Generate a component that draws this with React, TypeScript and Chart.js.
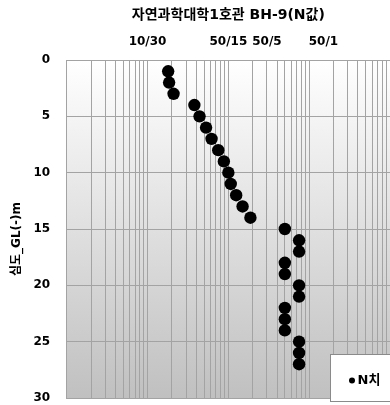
import React, { useEffect, useRef } from "react";
import { Chart, registerables } from "chart.js";

Chart.register(...registerables);

// ---- data ----
const depths = [1, 2, 3, 4, 5, 6, 7, 8, 9, 10, 11, 12, 13, 14, 15, 16, 17, 18, 19, 20, 21, 22, 23, 24, 25, 26, 27];
const nValues = [18, 18.5, 21, 38, 44, 53, 62, 75, 88, 100, 107, 125, 150, 187.5, 500, 750, 750, 500, 500, 750, 750, 500, 500, 500, 750, 750, 750];
const topTickValues = [10, 100, 300, 1500];
const topTickLabels = ["10/30", "50/15", "50/5", "50/1"];
const depthTickStep = 5;
const depthMin = 0;
const depthMax = 30;
const nMin = 1;
const nMax = 10000;
const chartTitle = "자연과학대학1호관 BH-9(N값)";
const yAxisTitle = "심도_GL(-)m";
const seriesLabel = "N치";

const FAMILY = "'DejaVu Sans', 'Noto Sans CJK KR', sans-serif";
const GRID = "#a3a3a3";

const TITLE_SIZE = 14;
const TITLE_PAD_TOP = 7;
const CHART_TOP = 60;
const CHART_LEFT = 66.7;

const bgPlugin = {
  id: "plotBg",
  beforeDraw(chart: any) {
    const { ctx, chartArea } = chart;
    if (!chartArea) return;
    const g = ctx.createLinearGradient(0, chartArea.top, 0, chartArea.bottom);
    g.addColorStop(0, "#ffffff");
    g.addColorStop(1, "#c0c0c0");
    ctx.save();
    ctx.fillStyle = g;
    ctx.fillRect(chartArea.left, chartArea.top, chartArea.right - chartArea.left, chartArea.bottom - chartArea.top);
    ctx.restore();
  },
};

// y-axis title, drawn slightly below the plot's vertical centre as in the reference
const yTitlePlugin = {
  id: "yTitle",
  afterDraw(chart: any) {
    const { ctx, chartArea } = chart;
    const cx = 16.7;
    const cy = (chartArea.top + chartArea.bottom) / 2 + 10;
    ctx.save();
    ctx.translate(cx, cy);
    ctx.rotate(-Math.PI / 2);
    ctx.font = `bold 12px ${FAMILY}`;
    ctx.fillStyle = "#000";
    ctx.textAlign = "center";
    ctx.textBaseline = "middle";
    ctx.fillText(yAxisTitle, 0, 0);
    ctx.restore();
  },
};

const legendBoxPlugin = {
  id: "legendBox",
  afterDraw(chart: any) {
    const { ctx, chartArea } = chart;
    const ds = chart.data.datasets[0];
    const x = chartArea.right - 59.5;
    const y = chartArea.bottom - 43.5;
    const w = 70;
    const h = 47;
    ctx.save();
    ctx.fillStyle = "#ffffff";
    ctx.strokeStyle = "#8a8a8a";
    ctx.lineWidth = 1;
    ctx.fillRect(x, y, w, h);
    ctx.strokeRect(x, y, w, h);
    const cy = y + 26;
    ctx.fillStyle = "#000";
    ctx.beginPath();
    ctx.arc(x + 21.5, cy, 3, 0, Math.PI * 2);
    ctx.fill();
    ctx.font = `bold 13px ${FAMILY}`;
    ctx.textBaseline = "middle";
    ctx.textAlign = "left";
    ctx.fillText(ds.label, x + 27, cy);
    ctx.restore();
  },
};

function buildGridValues(): number[] {
  const vals: number[] = [];
  for (let p = nMin; p < nMax; p *= 10) {
    for (let m = 1; m <= 9; m++) vals.push(m * p);
  }
  vals.push(nMax);
  topTickValues.forEach((v) => {
    if (!vals.includes(v)) vals.push(v);
  });
  return vals.sort((a, b) => a - b);
}

export default function App() {
  const ref = useRef<HTMLCanvasElement | null>(null);

  useEffect(() => {
    if (!ref.current) return;
    const gridValues = buildGridValues();
    const isLabelOnly = (v: number) => {
      let p = 1;
      while (p * 10 <= v) p *= 10;
      return !Number.isInteger(v / p);
    };
    const chart = new Chart(ref.current, {
      type: "scatter",
      data: {
        datasets: [
          {
            label: seriesLabel,
            data: depths.map((d, i) => ({ x: nValues[i], y: d })),
            backgroundColor: "#000000",
            borderColor: "#000000",
            pointRadius: 6.2,
            pointHoverRadius: 6.2,
            pointBorderWidth: 0,
          },
        ],
      },
      options: {
        animation: false,
        responsive: false,
        maintainAspectRatio: false,
        layout: { autoPadding: false, padding: { left: 0, right: 0, top: 0, bottom: 7 } },
        plugins: {
          legend: { display: false },
          tooltip: { enabled: false },
          title: {
            display: true,
            fullSize: false,
            text: chartTitle,
            color: "#000",
            font: { family: FAMILY, size: TITLE_SIZE, weight: "bold", lineHeight: 1.2 },
            padding: { top: TITLE_PAD_TOP, bottom: 0 },
          },
        },
        scales: {
          x: {
            type: "logarithmic",
            position: "top",
            min: nMin,
            max: nMax,
            afterBuildTicks: (scale: any) => {
              scale.ticks = gridValues.map((v) => ({ value: v }));
            },
            afterFit: (scale: any) => {
              scale.height = CHART_TOP - (TITLE_PAD_TOP + TITLE_SIZE * 1.2);
              scale.paddingLeft = 0;
              scale.paddingRight = 0;
            },
            ticks: {
              autoSkip: false,
              maxRotation: 0,
              padding: 11,
              color: "#000",
              font: { family: FAMILY, size: 12, weight: "bold" },
              callback: (value: any) => {
                const idx = topTickValues.indexOf(Number(value));
                return idx >= 0 ? topTickLabels[idx] : "";
              },
            },
            grid: {
              drawTicks: false,
              color: (c: any) => (c.tick && isLabelOnly(c.tick.value) ? "rgba(0,0,0,0)" : GRID),
              lineWidth: 1,
            },
            border: { display: true, color: GRID },
          },
          y: {
            type: "linear",
            reverse: true,
            min: depthMin,
            max: depthMax,
            afterFit: (scale: any) => {
              scale.width = CHART_LEFT;
              scale.paddingTop = 0;
              scale.paddingBottom = 0;
            },
            ticks: {
              stepSize: depthTickStep,
              padding: 16.5,
              color: "#000",
              font: { family: FAMILY, size: 12, weight: "bold" },
            },
            grid: { drawTicks: false, color: GRID, lineWidth: 1 },
            border: { display: true, color: GRID },
            title: { display: false, text: yAxisTitle },
          },
        },
      },
      plugins: [bgPlugin, yTitlePlugin, legendBoxPlugin],
    } as any);
    return () => chart.destroy();
  }, []);

  return (
    <div style={{ position: "fixed", left: 0, top: 0, width: 390, height: 405, background: "#fff" }}>
      <canvas ref={ref} width={390} height={405} style={{ width: 390, height: 405, display: "block" }} />
    </div>
  );
}
